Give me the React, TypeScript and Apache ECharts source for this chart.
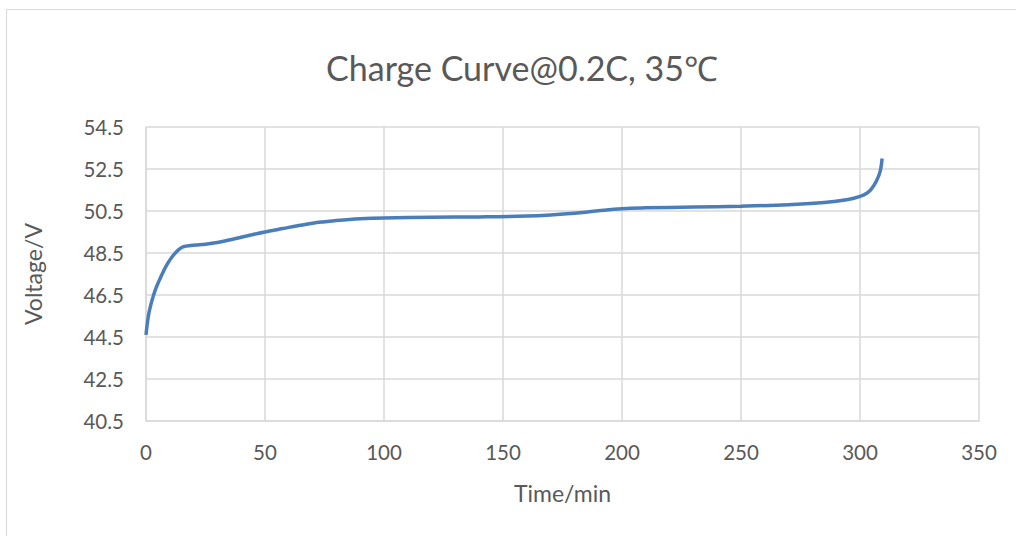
import React, { useEffect, useRef } from "react";
import * as echarts from "echarts";

const timeMin = [0, 1, 2, 3, 4, 5, 6, 7, 8, 9, 10, 11, 12, 13, 14, 15, 16, 18, 21, 25, 30, 35, 40, 45, 50, 55, 60, 65, 70, 75, 80, 90, 100, 120, 140, 160, 170, 180, 190, 200, 210, 230, 250, 270, 285, 295, 300, 303, 305, 307, 308.5, 309.3];
const voltage = [44.6, 45.5, 46.02, 46.43, 46.77, 47.05, 47.3, 47.55, 47.78, 47.98, 48.16, 48.32, 48.46, 48.58, 48.68, 48.76, 48.81, 48.85, 48.88, 48.92, 49.0, 49.12, 49.25, 49.38, 49.5, 49.61, 49.72, 49.82, 49.92, 49.99, 50.05, 50.13, 50.17, 50.2, 50.22, 50.26, 50.31, 50.39, 50.51, 50.61, 50.65, 50.69, 50.73, 50.8, 50.9, 51.05, 51.2, 51.36, 51.58, 51.95, 52.4, 53.0];

const titleText = "Charge Curve@0.2C, 35℃";
const xName = "Time/min";
const yName = "Voltage/V";

export default function App() {
  const ref = useRef<HTMLDivElement>(null);
  useEffect(() => {
    document.body.style.margin = "0";
    const chart = echarts.init(ref.current!, null, { renderer: "svg" });
    const font = "Lato, 'Open Sans', sans-serif";
    const data = timeMin.map((t, i) => [t, voltage[i]]);
    chart.setOption({
      animation: false,
      backgroundColor: "#ffffff",
      title: {
        text: titleText,
        left: 517,
        textAlign: "center",
        top: 45,
        textStyle: { fontFamily: font, fontSize: 34, fontWeight: "normal", color: "#595959" },
      },
      graphic: [
        {
          type: "rect",
          shape: { x: 6.5, y: 9.5, width: 1040, height: 560 },
          style: { fill: "none", stroke: "#d9d9d9", lineWidth: 1 },
          silent: true,
        },
      ],
      grid: { left: 146, right: 37, top: 127, bottom: 115 },
      xAxis: {
        type: "value",
        min: 0,
        max: 350,
        interval: 50,
        name: xName,
        nameLocation: "middle",
        nameGap: 60,
        nameTextStyle: { fontFamily: font, fontSize: 23, color: "#595959" },
        axisLine: { show: true, lineStyle: { color: "#d9d9d9", width: 1.5 } },
        axisTick: { show: false },
        axisLabel: { fontFamily: font, fontSize: 20.5, color: "#595959", margin: 20 },
        splitLine: { show: true, lineStyle: { color: "#d9d9d9", width: 1.5 } },
      },
      yAxis: {
        type: "value",
        min: 40.5,
        max: 54.5,
        interval: 2,
        name: yName,
        nameLocation: "middle",
        nameGap: 102,
        nameTextStyle: { fontFamily: font, fontSize: 23, color: "#595959" },
        axisLine: { show: true, lineStyle: { color: "#d9d9d9", width: 1.5 } },
        axisTick: { show: false },
        axisLabel: { fontFamily: font, fontSize: 20.5, color: "#595959", margin: 22, formatter: (v: number) => v.toFixed(1) },
        splitLine: { show: true, lineStyle: { color: "#d9d9d9", width: 1.5 } },
      },
      series: [
        {
          type: "line",
          data,
          smooth: 0.4,
          showSymbol: false,
          lineStyle: { color: "#4a7ebb", width: 3.5 },
        },
      ],
    });
    return () => chart.dispose();
  }, []);
  return <div ref={ref} style={{ width: 1016, height: 536 }} />;
}
